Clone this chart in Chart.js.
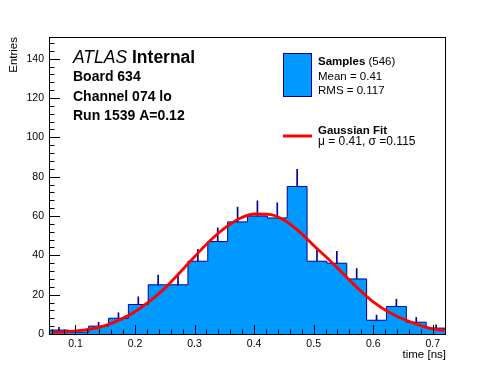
<!DOCTYPE html>
<html>
<head>
<meta charset="utf-8">
<script src="https://cdn.jsdelivr.net/npm/chart.js@4.4.1/dist/chart.umd.min.js"></script>
<style>
  html, body { margin: 0; padding: 0; background: #fff; }
  canvas { display: block; }
</style>
</head>
<body>
<canvas id="histChart" width="496" height="372"></canvas>
<script>
// histogram: 20 bins, edges in ns
const binEdges = [0.0556, 0.0889, 0.1222, 0.1556, 0.1889, 0.2222, 0.2556, 0.2889, 0.3222, 0.3556,
                  0.3889, 0.4222, 0.4556, 0.4889, 0.5222, 0.5556, 0.5889, 0.6222, 0.6556, 0.6889, 0.7222];
const binCounts = [2, 1, 4, 8, 15, 25, 25, 37, 47, 57, 60, 59, 75, 37, 36, 28, 7, 14, 6, 3];
const binErrors = [1.4, 1, 2, 2.8, 3.9, 5, 5, 6.1, 6.9, 7.5, 7.7, 7.7, 8.7, 6.1, 6, 5.3, 2.6, 3.7, 2.4, 1.7];

// gaussian fit curve
const fitX = [0.06, 0.075, 0.1, 0.125, 0.15, 0.175, 0.2, 0.225, 0.25, 0.275, 0.3, 0.325, 0.35, 0.375,
              0.4, 0.425, 0.45, 0.475, 0.5, 0.525, 0.55, 0.575, 0.6, 0.625, 0.65, 0.675, 0.7, 0.72];
const fitY = [0.8, 1.0, 1.6, 2.5, 4.3, 7.3, 11.3, 16.8, 23.2, 31.1, 39.3, 47.2, 53.7, 58.6,
              61.0, 60.8, 58.0, 52.3, 45.0, 38.0, 30.5, 23.0, 16.3, 11.3, 7.6, 4.8, 2.6, 1.8];

const xTickValues = [0.1, 0.2, 0.3, 0.4, 0.5, 0.6, 0.7];
const yTickValues = [0, 20, 40, 60, 80, 100, 120, 140];

const infoLines = ['Board 634', 'Channel 074 lo', 'Run 1539 A=0.12'];
const sampleStats = ['Mean = 0.41', 'RMS = 0.117'];
const fitStats = 'μ = 0.41, σ =0.115';

const FILL = '#0099ff';
const DARK = '#000099';
const RED = '#ff0000';
const FONT = 'Liberation Sans, Arial, sans-serif';

// ROOT style frame with inward ticks
const rootFrame = {
    id: 'rootFrame',
    afterDatasetsDraw(chart) {
        const { ctx, chartArea: a, scales: { x, y } } = chart;
        ctx.save();
        ctx.strokeStyle = '#000';
        ctx.lineWidth = 1;
        ctx.beginPath();
        for (let i = 0; i * 4 <= y.max; i++) {
            const py = Math.round(y.getPixelForValue(i * 4)) + 0.5;
            const len = i % 5 === 0 ? 11 : 5.5;
            ctx.moveTo(a.left, py);
            ctx.lineTo(a.left + len, py);
        }
        for (let i = Math.ceil(x.min / 0.02); i * 0.02 <= x.max; i++) {
            const px = Math.round(x.getPixelForValue(i * 0.02)) + 0.5;
            const len = i % 5 === 0 ? 9 : 4.5;
            ctx.moveTo(px, a.bottom);
            ctx.lineTo(px, a.bottom - len);
        }
        ctx.stroke();
        ctx.strokeRect(a.left + 0.5, a.top + 0.5, a.right - a.left - 1, a.bottom - a.top);
        ctx.restore();
    }
};

function drawParts(ctx, parts, x, yBase) {
    let cx = x;
    for (const [text, font] of parts) {
        ctx.font = font;
        ctx.fillText(text, cx, yBase);
        cx += ctx.measureText(text).width;
    }
}

const rootText = {
    id: 'rootText',
    afterDraw(chart) {
        const ctx = chart.ctx;
        ctx.save();
        ctx.fillStyle = '#000';
        ctx.textBaseline = 'alphabetic';
        ctx.textAlign = 'left';

        drawParts(ctx, [['ATLAS', 'italic 17.5px ' + FONT], [' Internal', 'bold 17.5px ' + FONT]], 73, 63);
        ctx.font = 'bold 14px ' + FONT;
        infoLines.forEach((t, i) => ctx.fillText(t, 73, 81 + i * 19.5));

        // legend
        ctx.fillStyle = FILL;
        ctx.fillRect(283.5, 53.5, 28, 43);
        ctx.strokeStyle = DARK;
        ctx.lineWidth = 1;
        ctx.strokeRect(283.5, 53.5, 28, 43);
        ctx.fillStyle = '#000';
        drawParts(ctx, [['Samples', 'bold 11.5px ' + FONT], [' (546)', '11.5px ' + FONT]], 318, 65);
        ctx.font = '11.5px ' + FONT;
        sampleStats.forEach((t, i) => ctx.fillText(t, 318, 80 + i * 13.5));

        ctx.strokeStyle = RED;
        ctx.lineWidth = 3;
        ctx.beginPath();
        ctx.moveTo(283, 136);
        ctx.lineTo(312, 136);
        ctx.stroke();
        ctx.font = 'bold 11.5px ' + FONT;
        ctx.fillText('Gaussian Fit', 318, 133.5);
        ctx.font = '12px ' + FONT;
        ctx.fillText(fitStats, 318, 145);
        ctx.restore();
    }
};

const histPoints = binCounts.map((c, i) => ({ x: binEdges[i], y: c }));
histPoints.push({ x: binEdges[binEdges.length - 1], y: binCounts[binCounts.length - 1] });

new Chart(document.getElementById('histChart'), {
    type: 'line',
    data: {
        datasets: [{
            label: 'Gaussian Fit',
            data: fitX.map((v, i) => ({ x: v, y: fitY[i] })),
            borderColor: RED,
            borderWidth: 2.8,
            pointRadius: 0,
            fill: false,
            cubicInterpolationMode: 'monotone',
            order: 0
        }, {
            label: 'errors',
            type: 'bar',
            data: binCounts.map((c, i) => ({ x: (binEdges[i] + binEdges[i + 1]) / 2, y: [c, c + binErrors[i]] })),
            backgroundColor: DARK,
            barThickness: 1,
            borderWidth: 0,
            order: 1
        }, {
            label: 'Samples',
            data: histPoints,
            stepped: true,
            fill: 'origin',
            backgroundColor: FILL,
            borderColor: DARK,
            borderWidth: 1,
            pointRadius: 0,
            order: 2
        }]
    },
    options: {
        responsive: false,
        animation: false,
        devicePixelRatio: 1,
        layout: { padding: { top: 37, right: 50, left: 0, bottom: 0 } },
        plugins: { legend: { display: false }, tooltip: { enabled: false } },
        scales: {
            x: {
                type: 'linear',
                min: binEdges[0],
                max: binEdges[binEdges.length - 1],
                offset: false,
                grid: { display: false, drawTicks: false, offset: false },
                border: { display: false },
                afterBuildTicks: s => { s.ticks = xTickValues.map(v => ({ value: v })); },
                afterFit: s => { s.height = 38; },
                ticks: {
                    padding: 4, color: '#000', autoSkip: false, maxRotation: 0,
                    font: { family: FONT, size: 10.5 },
                    callback: v => v.toFixed(1)
                },
                title: {
                    display: true, text: 'time [ns]', align: 'end', color: '#000',
                    font: { family: FONT, size: 11.5 },
                    padding: { top: 0, bottom: 10 }
                }
            },
            y: {
                min: 0,
                max: 151,
                grid: { display: false, drawTicks: false },
                border: { display: false },
                afterBuildTicks: s => { s.ticks = yTickValues.map(v => ({ value: v })); },
                afterFit: s => { s.width = 49; },
                ticks: {
                    padding: 5, color: '#000',
                    font: { family: FONT, size: 10.5 },
                    callback: v => String(v)
                },
                title: {
                    display: true, text: 'Entries', align: 'end', color: '#000',
                    font: { family: FONT, size: 11.5 },
                    padding: { top: 7, bottom: 0 }
                }
            }
        }
    },
    plugins: [rootFrame, rootText]
});
</script>
</body>
</html>
